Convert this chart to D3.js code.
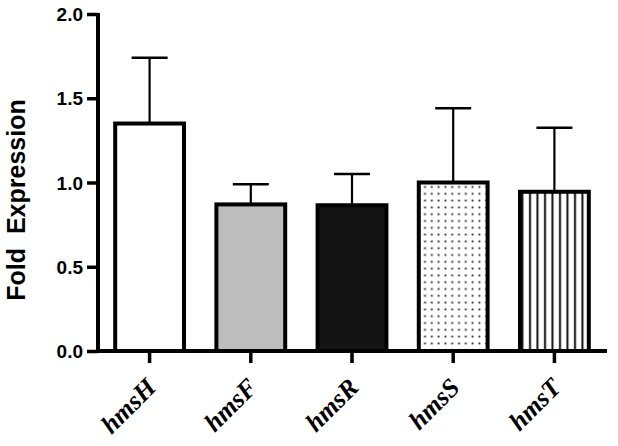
<!DOCTYPE html>
<html><head><meta charset="utf-8">
<script src="https://cdn.jsdelivr.net/npm/d3@7"></script>
<style>body{margin:0;background:#fff}svg{display:block}</style>
</head><body>
<svg id="chart" width="618" height="446"></svg>
<script>
const categories = ["hmsH", "hmsF", "hmsR", "hmsS", "hmsT"];
const means = [1.35, 0.87, 0.865, 1.0, 0.945];
const errors = [0.39, 0.12, 0.185, 0.44, 0.38];
const yTicks = [0.0, 0.5, 1.0, 1.5, 2.0];
const fills = ["#ffffff", "#bdbdbd", "#141414", "url(#dots)", "url(#vlines)"];

const svg = d3.select("#chart");
const defs = svg.append("defs");
const pd = defs.append("pattern").attr("id","dots").attr("patternUnits","userSpaceOnUse")
  .attr("width",6.8).attr("height",6.8);
pd.append("rect").attr("width",6.8).attr("height",6.8).attr("fill","#fff");
pd.append("rect").attr("x",2.5).attr("y",2.5).attr("width",1.8).attr("height",1.8).attr("fill","#222");
const pv = defs.append("pattern").attr("id","vlines").attr("patternUnits","userSpaceOnUse")
  .attr("width",7.5).attr("height",10).attr("x",1);
pv.append("rect").attr("width",7.5).attr("height",10).attr("fill","#fff");
pv.append("rect").attr("x",3).attr("y",0).attr("width",2).attr("height",10).attr("fill","#111");

const x0 = 99, x1 = 605, yTop = 14, yBot = 351;
const x = d3.scaleBand().domain(categories).range([x0, x1]).paddingInner(0.32).paddingOuter(0.16);
const y = d3.scaleLinear().domain([0, 2]).range([yBot, yTop]);

// bars
const g = svg.append("g");
categories.forEach((c, i) => {
  const bx = x(c), bw = x.bandwidth(), cx = bx + bw / 2;
  g.append("line").attr("x1",cx).attr("x2",cx).attr("y1",y(means[i])).attr("y2",y(means[i]+errors[i]))
    .attr("stroke","#000").attr("stroke-width",2.2);
  g.append("line").attr("x1",cx-18).attr("x2",cx+18).attr("y1",y(means[i]+errors[i])).attr("y2",y(means[i]+errors[i]))
    .attr("stroke","#000").attr("stroke-width",2.5);
  g.append("rect").attr("x",bx).attr("y",y(means[i])).attr("width",bw).attr("height",yBot - y(means[i]))
    .attr("fill",fills[i]).attr("stroke","#000").attr("stroke-width",4);
});

// y axis
const ya = svg.append("g").attr("transform",`translate(${x0-1},0)`)
  .call(d3.axisLeft(y).tickValues(yTicks).tickFormat(d3.format(".1f")).tickSize(11).tickPadding(4));
ya.select(".domain").attr("stroke","#000").attr("stroke-width",4).attr("d",`M0,${yTop-1}V${yBot+2}`);
ya.selectAll(".tick line").attr("stroke","#000").attr("stroke-width",3.5);
ya.selectAll(".tick text").attr("font-family","Liberation Sans, Arial, sans-serif").attr("font-weight","bold")
  .attr("font-size",19).attr("fill","#000").attr("dy","0.35em");

// x axis
const xa = svg.append("g").attr("transform",`translate(0,${yBot})`)
  .call(d3.axisBottom(x).tickSize(12).tickFormat(""));
xa.select(".domain").attr("stroke","#000").attr("stroke-width",4).attr("d",`M${x0-3},0H${x1+2}`);
xa.selectAll(".tick line").attr("stroke","#000").attr("stroke-width",3.5);
xa.selectAll(".tick").append("text")
  .text(d => d)
  .attr("transform","translate(8,38) rotate(-45)")
  .attr("text-anchor","end")
  .attr("font-family","Liberation Serif, Times New Roman, serif")
  .attr("font-style","italic").attr("font-weight","bold")
  .attr("font-size",26).attr("fill","#000");

// y label
svg.append("text").attr("transform",`translate(25,200) rotate(-90)`)
  .attr("text-anchor","middle").attr("font-family","Liberation Sans, Arial, sans-serif")
  .attr("font-weight","bold").attr("font-size",25).attr("fill","#000")
  .attr("xml:space","preserve").style("white-space","pre")
  .text("Fold  Expression");
</script>
</body></html>
